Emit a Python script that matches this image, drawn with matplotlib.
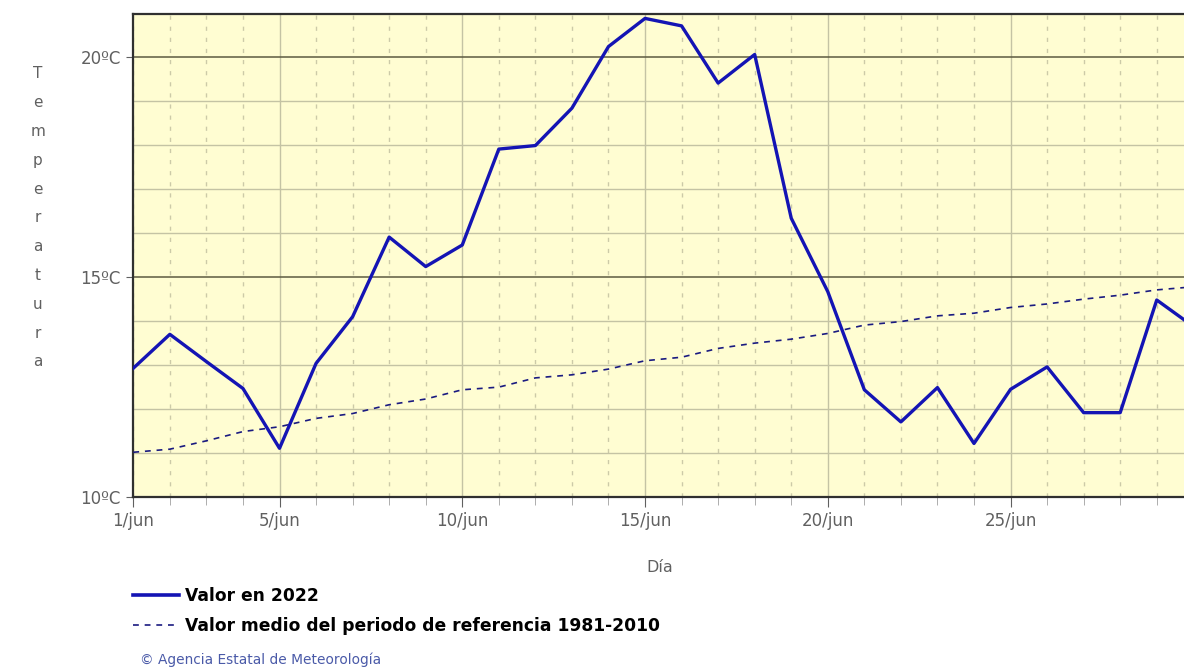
import matplotlib
matplotlib.use('Agg')
import matplotlib.pyplot as plt
from matplotlib.lines import Line2D
from matplotlib.ticker import MultipleLocator, FixedLocator

# daily mean temperature, June 2022
dias = list(range(1, 31))
valor_2022 = [12.92, 13.69, 13.07, 12.46, 11.10, 13.03, 14.09, 15.90, 15.23, 15.72,
              17.90, 17.98, 18.83, 20.23, 20.87, 20.70, 19.40, 20.05, 16.33, 14.66,
              12.43, 11.70, 12.48, 11.21, 12.44, 12.95, 11.91, 11.91, 14.47, 13.87]
valor_medio = [11.01, 11.08, 11.27, 11.48, 11.59, 11.78, 11.89, 12.09, 12.22, 12.43,
               12.49, 12.70, 12.77, 12.90, 13.09, 13.17, 13.37, 13.49, 13.58, 13.71,
               13.90, 13.98, 14.11, 14.17, 14.30, 14.38, 14.49, 14.58, 14.70, 14.77]
xticks = [1, 5, 10, 15, 20, 25]
xlabels = ['1/jun', '5/jun', '10/jun', '15/jun', '20/jun', '25/jun']
yticks = [10, 15, 20]
ylabels = ['10ºC', '15ºC', '20ºC']

W, H = 1184, 670
fig = plt.figure(figsize=(W / 100, H / 100), dpi=100)
fig.patch.set_facecolor('white')

left, right, top, bottom = 133.3, 1193.3, 14, 496.7
ax = fig.add_axes([left / W, 1 - bottom / H, (right - left) / W, (bottom - top) / H])
ax.set_facecolor('#fffdd2')

ax.set_xlim(1, 30)
ax.set_ylim(10, 20.97)

# grid
for d in dias:
    if d in xticks and d != 1:
        ax.axvline(d, color='#c4c3a4', lw=1, zorder=1)
    else:
        ax.axvline(d, color='#cccaa8', lw=1, ls=(0, (3, 5)), zorder=1)
for t in range(11, 21):
    if t in yticks:
        ax.axhline(t, color='#5c5b40', lw=1.1, zorder=1)
    else:
        ax.axhline(t, color='#c4c3a4', lw=1, zorder=1)

ax.plot(dias, valor_medio, color='#1a1a80', lw=1.2, ls=(0, (3.5, 3.5)), zorder=3)
ax.plot(dias, valor_2022, color='#1414b4', lw=2.4, zorder=4)

for s in ['left', 'top', 'bottom']:
    ax.spines[s].set_color('#303030')
    ax.spines[s].set_linewidth(1.6)
ax.spines['right'].set_visible(False)

ax.xaxis.set_major_locator(FixedLocator(xticks))
ax.xaxis.set_minor_locator(MultipleLocator(1))
ax.set_xticks(xticks)
ax.set_xticklabels(xlabels)
ax.set_yticks(yticks)
ax.set_yticklabels(ylabels)
ax.tick_params(axis='x', which='major', direction='out', length=7, color='#606060',
               labelsize=12, labelcolor='#606060', pad=4)
ax.tick_params(axis='x', which='minor', direction='out', length=6, color='#a0a0a0')
ax.tick_params(axis='y', which='major', direction='out', length=5, color='#606060',
               labelsize=12, labelcolor='#606060', pad=4)

# axis titles
fig.text(38 / W, 1 - 218 / H, '\n'.join('Temperatura'), ha='center', va='center',
         fontsize=11, color='#606060', linespacing=2.15)
fig.text(660 / W, 1 - 568 / H, 'Día', ha='center', va='center', fontsize=11.5, color='#606060')

# legend
handles = [Line2D([], [], color='#1414b4', lw=2.6),
           Line2D([], [], color='#1a1a80', lw=1.2, ls=(0, (3.5, 3.5)))]
fig.legend(handles, ['Valor en 2022', 'Valor medio del periodo de referencia 1981-2010'],
           loc='upper left', bbox_to_anchor=(133 / W, 1 - 587 / H), frameon=False,
           handlelength=2.7, handletextpad=0.35, labelspacing=0.7,
           prop={'weight': 'bold', 'size': 12.3}, borderaxespad=0, borderpad=0)

fig.text(140 / W, 1 - 660 / H, '© Agencia Estatal de Meteorología', ha='left', va='center',
         fontsize=9.9, color='#4a5aa8')

fig.savefig('out.png', dpi=100)
